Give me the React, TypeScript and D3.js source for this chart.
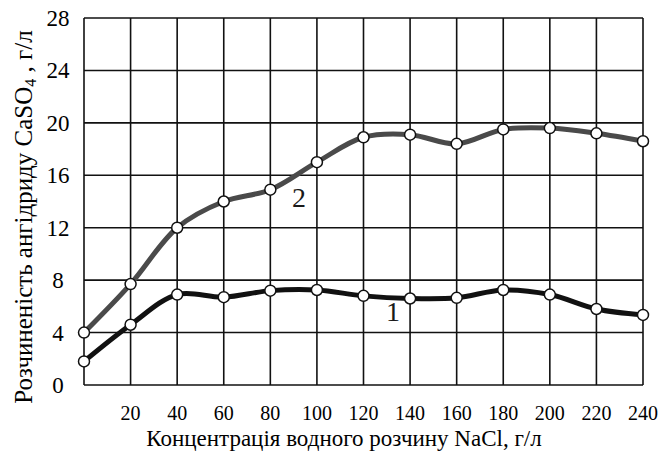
import React, { useEffect, useRef } from 'react'
import * as d3 from 'd3'

// concentration of NaCl, g/l
const conc = [0, 20, 40, 60, 80, 100, 120, 140, 160, 180, 200, 220, 240]
// curve 1
const curve1 = [1.8, 4.6, 6.9, 6.7, 7.2, 7.25, 6.8, 6.6, 6.65, 7.25, 6.9, 5.8, 5.35]
// curve 2
const curve2 = [4.0, 7.7, 12.0, 14.0, 14.9, 17.0, 18.9, 19.1, 18.4, 19.5, 19.6, 19.2, 18.6]
const yTicks = [0, 4, 8, 12, 16, 20, 24, 28]
const xTicks = [20, 40, 60, 80, 100, 120, 140, 160, 180, 200, 220, 240]

const App = () => {
  const ref = useRef<SVGSVGElement>(null)

  useEffect(() => {
    const svg = d3.select(ref.current)
    svg.selectAll('*').remove()

    const left = 84, right = 643, top = 18, bottom = 385

    const x = d3.scaleLinear().domain([0, 240]).range([left, right])
    const y = d3.scaleLinear().domain([0, 28]).range([bottom, top])

    svg.attr('font-family', 'Liberation Serif, Times New Roman, serif')

    // grid
    const g = svg.append('g').attr('stroke', '#111').attr('stroke-width', 1.6)
    g.selectAll('.hg')
      .data(yTicks)
      .enter().append('line')
      .attr('x1', left).attr('x2', right)
      .attr('y1', d => y(d)).attr('y2', d => y(d))
    g.selectAll('.vg')
      .data([0].concat(xTicks))
      .enter().append('line')
      .attr('y1', top).attr('y2', bottom)
      .attr('x1', d => x(d)).attr('x2', d => x(d))

    // y tick labels
    svg.append('g').selectAll('text')
      .data(yTicks)
      .enter().append('text')
      .attr('x', 58)
      .attr('y', d => y(d) + 8)
      .attr('text-anchor', 'middle')
      .attr('font-size', 23)
      .text(d => d)

    // x tick labels
    svg.append('g').selectAll('text')
      .data(xTicks)
      .enter().append('text')
      .attr('x', d => x(d))
      .attr('y', 420)
      .attr('text-anchor', 'middle')
      .attr('font-size', 20)
      .text(d => d)

    svg.append('text')
      .attr('x', 344).attr('y', 446)
      .attr('text-anchor', 'middle')
      .attr('font-size', 23)
      .text('Концентрація водного розчину NaCl, г/л')

    const yt = svg.append('text')
      .attr('transform', 'translate(32,217) rotate(-90)')
      .attr('text-anchor', 'middle')
      .attr('font-size', 25)
    yt.append('tspan').text('Розчиненість ангідриду CaSO')
    yt.append('tspan').attr('dy', 4).attr('font-size', 16).text('4')
    yt.append('tspan').attr('dy', -4).text(' , г/л')

    const line = d3.line<number>()
      .x((d, i) => x(conc[i]))
      .y(d => y(d))
      .curve(d3.curveCatmullRom)

    svg.append('path')
      .datum(curve2)
      .attr('d', line)
      .attr('fill', 'none')
      .attr('stroke', '#4a4a4a')
      .attr('stroke-width', 5)

    svg.append('path')
      .datum(curve1)
      .attr('d', line)
      .attr('fill', 'none')
      .attr('stroke', '#111')
      .attr('stroke-width', 5)

    ;[curve1, curve2].forEach(vals => {
      svg.append('g').selectAll('circle')
        .data(vals)
        .enter().append('circle')
        .attr('cx', (d, i) => x(conc[i]))
        .attr('cy', d => y(d))
        .attr('r', 5.5)
        .attr('fill', '#fff')
        .attr('stroke', '#111')
        .attr('stroke-width', 1.5)
    })

    // curve numbers
    svg.append('text')
      .attr('x', 299).attr('y', 207)
      .attr('text-anchor', 'middle')
      .attr('font-size', 28)
      .attr('fill', '#1a1a1a')
      .text('2')
    svg.append('text')
      .attr('x', 393).attr('y', 321)
      .attr('text-anchor', 'middle')
      .attr('font-size', 28)
      .attr('fill', '#1a1a1a')
      .text('1')
  }, [])

  return (
    <div style={{ position: 'fixed', left: 0, top: 0, background: '#fff' }}>
      <svg ref={ref} width={671} height={454} />
    </div>
  )
}

export default App
